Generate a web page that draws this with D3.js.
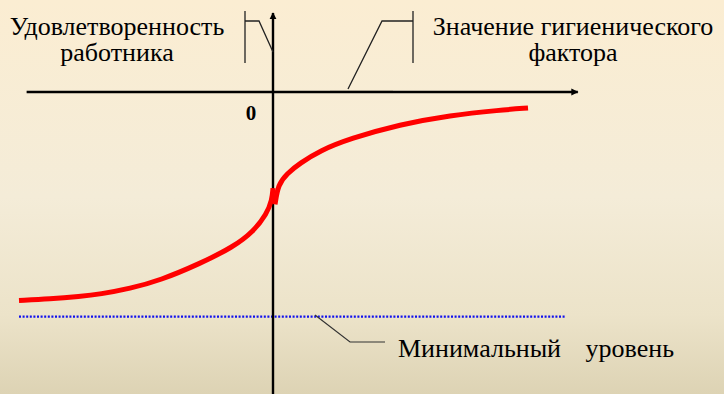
<!DOCTYPE html>
<html>
<head>
<meta charset="utf-8">
<script src="https://cdn.jsdelivr.net/npm/d3@7"></script>
<style>
html,body{margin:0;padding:0;overflow:hidden;}
svg{display:block;}
</style>
</head>
<body>
<svg></svg>
<script>
//chart values (x = hygiene factor, y = satisfaction)
var leftX = [-10, -8.78, -7.6, -6.81, -5.63, -4.45, -2.87, -1.57, -0.79, -0.24, -0.04, 0];
var leftY = [-10.02, -9.95, -9.83, -9.72, -9.45, -9.06, -8.25, -7.45, -6.73, -5.85, -5.19, -4.62];
var rightX = [0.08, 0.2, 0.55, 1.06, 1.85, 3.03, 5.0, 6.97, 8.94, 10.04];
var rightY = [-5.4, -4.45, -3.92, -3.43, -2.82, -2.24, -1.56, -1.12, -0.87, -0.77];
var minLevel = -10.8;
var minLevelX = [-10, 11.5];
var axisXRange = [-9.7, 12.0];
var axisYRange = [-14.6, 3.8];
var labels = {
	yTitle: ['Удовлетворенность', 'работника'],
	xTitle: ['Значение гигиенического', 'фактора'],
	zero: '0',
	min: ['Минимальный', 'уровень']
};

/*********D3 chart************/
var width = 724;
var height = 394;
var svg = d3.select('svg')
	.attr('width', width)
	.attr('height', height);

var defs = svg.append('defs');
var grad = defs.append('linearGradient')
	.attr('id', 'bg')
	.attr('x1', 0).attr('y1', 0).attr('x2', 0).attr('y2', 1);
grad.append('stop').attr('offset', '0%').attr('stop-color', '#fbedd2');
grad.append('stop').attr('offset', '50%').attr('stop-color', '#f4ecd8');
grad.append('stop').attr('offset', '80%').attr('stop-color', '#ece3c9');
grad.append('stop').attr('offset', '100%').attr('stop-color', '#ddd3b4');
svg.append('rect')
	.attr('width', width).attr('height', height)
	.attr('fill', 'url(#bg)');

defs.append('marker')
	.attr('id', 'arrow')
	.attr('viewBox', '0 0 10 10')
	.attr('refX', 9).attr('refY', 5)
	.attr('markerWidth', 3).attr('markerHeight', 3)
	.attr('orient', 'auto')
	.append('path')
	.attr('d', 'M0,0L10,5L0,10z')
	.attr('fill', '#000');

var xScale = d3.scaleLinear().domain([-10, 10]).range([19, 527]);
var yScale = d3.scaleLinear().domain([0, -10]).range([92, 300]);

var line = d3.line()
	.x(function(d){ return xScale(d[0]); })
	.y(function(d){ return yScale(d[1]); });

//minimal level, blue dotted
svg.append('path')
	.attr('d', line([[minLevelX[0], minLevel], [minLevelX[1], minLevel]]))
	.attr('stroke', '#1010ee')
	.attr('stroke-width', 2.2)
	.attr('stroke-dasharray', '2,1.6')
	.attr('fill', 'none');

//axes
svg.append('path')
	.attr('d', line([[axisXRange[0], 0], [axisXRange[1], 0]]))
	.attr('stroke', '#000').attr('stroke-width', 2.4)
	.attr('marker-end', 'url(#arrow)');
svg.append('path')
	.attr('d', line([[0, axisYRange[0]], [0, axisYRange[1]]]))
	.attr('stroke', '#000').attr('stroke-width', 2.4)
	.attr('marker-end', 'url(#arrow)');

//the curve, two branches
var curve = d3.line()
	.x(function(d){ return xScale(d[0]); })
	.y(function(d){ return yScale(d[1]); })
	.curve(d3.curveBasis);
var leftPts = d3.zip(leftX, leftY);
var rightPts = d3.zip(rightX, rightY);
svg.selectAll('.branch')
	.data([leftPts, rightPts])
	.enter().append('path')
	.attr('class', 'branch')
	.attr('d', curve)
	.attr('stroke', '#ff0000')
	.attr('stroke-width', 5)
	.attr('fill', 'none');

//leader lines
var lead = svg.append('g')
	.attr('fill', 'none')
	.attr('stroke', '#222')
	.attr('stroke-width', 1.3);
lead.append('path').attr('d', 'M245,11V63M245,21H259L273,52');
lead.append('path').attr('d', 'M413,11V63M413,21H382L348,89');
svg.append('path').attr('d', 'M330,90.5H393')
	.attr('stroke', '#a89f8c').attr('stroke-width', 1.2);
svg.append('path').attr('d', 'M315,315L350,342H385')
	.attr('fill', 'none').attr('stroke', '#333').attr('stroke-width', 1.2);

//texts
var serif = "'Liberation Serif'";
function addText(x, y, s, anchor, size, weight) {
	return svg.append('text')
		.attr('x', x).attr('y', y)
		.attr('text-anchor', anchor || 'middle')
		.attr('fill', '#000')
		.style('font-family', serif)
		.style('font-size', (size || 26) + 'px')
		.style('font-weight', weight || 'normal')
		.text(s);
}
addText(117, 35, labels.yTitle[0]);
addText(117, 61, labels.yTitle[1]);
addText(573, 35, labels.xTitle[0]);
addText(573, 61, labels.xTitle[1]);
addText(251, 120, labels.zero, 'middle', 21, 'bold');
addText(398, 357, labels.min[0], 'start');
addText(674, 357, labels.min[1], 'end');
</script>
</body>
</html>
